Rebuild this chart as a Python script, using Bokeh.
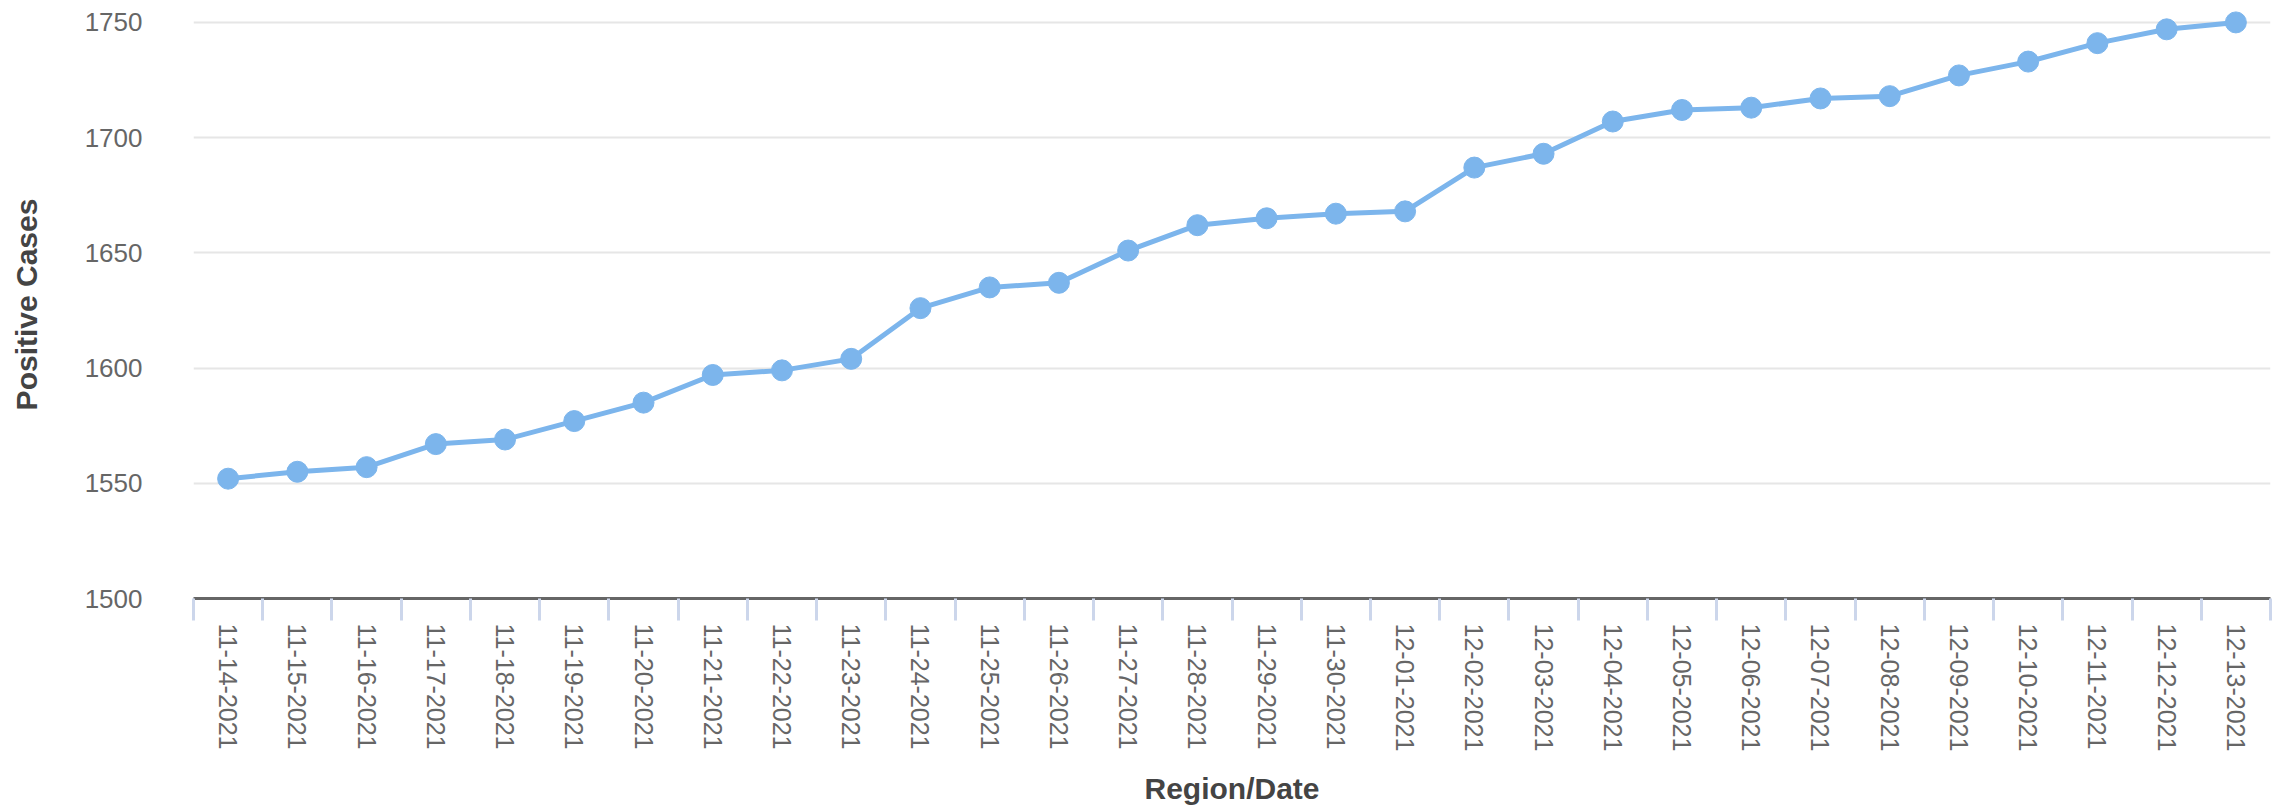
import math
from bokeh.plotting import figure
from bokeh.models import FixedTicker, Range1d
from bokeh.embed import file_html
from bokeh.resources import INLINE

dates = ["11-14-2021", "11-15-2021", "11-16-2021", "11-17-2021", "11-18-2021",
         "11-19-2021", "11-20-2021", "11-21-2021", "11-22-2021", "11-23-2021",
         "11-24-2021", "11-25-2021", "11-26-2021", "11-27-2021", "11-28-2021",
         "11-29-2021", "11-30-2021", "12-01-2021", "12-02-2021", "12-03-2021",
         "12-04-2021", "12-05-2021", "12-06-2021", "12-07-2021", "12-08-2021",
         "12-09-2021", "12-10-2021", "12-11-2021", "12-12-2021", "12-13-2021"]
positive_cases = [1552, 1555, 1557, 1567, 1569, 1577, 1585, 1597, 1599, 1604,
                  1626, 1635, 1637, 1651, 1662, 1665, 1667, 1668, 1687, 1693,
                  1707, 1712, 1713, 1717, 1718, 1727, 1733, 1741, 1747, 1750]
y_ticks = [1500, 1550, 1600, 1650, 1700, 1750]

n = len(dates)
xs = [i + 0.5 for i in range(n)]

# small headroom above 1750 so the top marker is not clipped by the frame
p = figure(width=2272, height=808, output_backend="svg", toolbar_location=None,
           x_range=Range1d(0, n), y_range=Range1d(1500, 1755.17),
           min_border_left=193, min_border_right=2, min_border_top=10,
           min_border_bottom=206)
p.outline_line_color = None
p.background_fill_color = "white"
p.border_fill_color = "white"

p.line(xs, positive_cases, line_color="#7cb5ec", line_width=5)
p.scatter(xs, positive_cases, size=21, fill_color="#7cb5ec", line_color="#7cb5ec")

font = "Liberation Sans"

# x axis
xa = p.xaxis[0]
xa.ticker = FixedTicker(ticks=xs, minor_ticks=list(range(n + 1)))
xa.major_label_overrides = {x: d for x, d in zip(xs, dates)}
xa.major_label_orientation = -math.pi / 2
xa.major_tick_out = 0
xa.major_tick_in = 0
xa.minor_tick_out = 22
xa.minor_tick_in = 0
xa.minor_tick_line_color = "#ccd6eb"
xa.minor_tick_line_width = 3
xa.axis_line_color = "#666666"
xa.axis_line_width = 3
xa.major_label_standoff = 3
xa.major_label_text_font = font
xa.major_label_text_font_size = "25px"
xa.major_label_text_color = "#666666"
xa.axis_label = "Region/Date"
xa.axis_label_text_font = font
xa.axis_label_text_font_size = "30px"
xa.axis_label_text_font_style = "bold"
xa.axis_label_text_color = "#444444"
xa.axis_label_standoff = 18

# y axis
ya = p.yaxis[0]
ya.ticker = FixedTicker(ticks=y_ticks)
ya.axis_line_color = None
ya.major_tick_line_color = None
ya.minor_tick_line_color = None
ya.major_label_standoff = 45
ya.major_label_text_font = font
ya.major_label_text_font_size = "26px"
ya.major_label_text_color = "#666666"
ya.axis_label = "Positive Cases"
ya.axis_label_text_font = font
ya.axis_label_text_font_size = "30px"
ya.axis_label_text_font_style = "bold"
ya.axis_label_text_color = "#444444"
ya.axis_label_standoff = 39

p.xgrid.grid_line_color = None
p.ygrid.grid_line_color = "#e6e6e6"
p.ygrid.grid_line_width = 2

open("out.html", "w").write(file_html(p, INLINE))
